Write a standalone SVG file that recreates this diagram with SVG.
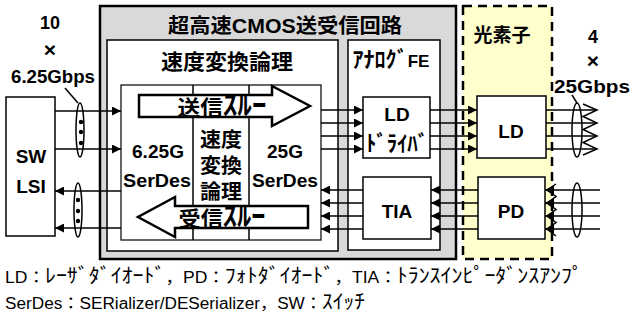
<svg xmlns="http://www.w3.org/2000/svg" width="630" height="322" viewBox="0 0 630 322">
<style>
.box{fill:#fff;stroke:#000;stroke-width:1.5}
.ln{stroke:#000;stroke-width:1.5;fill:none}
.t{font-family:"Liberation Sans","Noto Sans CJK JP",sans-serif;font-weight:bold;text-anchor:middle;fill:#000}
.n{font-family:"Liberation Sans","Noto Sans CJK JP",sans-serif;font-size:16px;fill:#000}
.k{font-family:"Noto Sans CJK JP",sans-serif;font-size:20px}
</style>
<defs>
<marker id="ah" viewBox="0 0 10 10" refX="10" refY="5" markerWidth="9" markerHeight="9" markerUnits="userSpaceOnUse" orient="auto"><path d="M0,0 L10,5 L0,10 z" fill="#000"/></marker>
</defs>

<g id="cmos">
<rect x="100" y="6" width="356" height="253" fill="#d9d9d9" stroke="#000" stroke-width="2.5"/>
<text class="t" x="285" y="33" font-size="20" textLength="234" lengthAdjust="spacingAndGlyphs">超高速CMOS送受信回路</text>
</g>

<g id="optical">
<rect x="463" y="6" width="89" height="253" fill="#ffffcc" stroke="#000" stroke-width="2.5" stroke-dasharray="9,6"/>
<text class="t" x="502" y="42" font-size="19">光素子</text>
</g>

<g id="speedlogic">
<rect class="box" x="107" y="40" width="231" height="211"/>
<text class="t" x="227" y="69" font-size="21" textLength="132" lengthAdjust="spacingAndGlyphs">速度変換論理</text>
</g>

<g id="analogfe">
<rect class="box" x="348" y="40" width="92" height="210"/>
<text class="t" x="391" y="67" font-size="17" textLength="77" lengthAdjust="spacingAndGlyphs"><tspan font-size="22">ｱﾅﾛｸﾞ</tspan>FE</text>
</g>

<g id="serdes">
<rect x="121" y="85" width="200" height="155" fill="#fff" stroke="#000" stroke-width="1.2"/>
<line class="ln" x1="193" y1="85" x2="193" y2="240" stroke-width="1.2"/>
<line class="ln" x1="249" y1="85" x2="249" y2="240" stroke-width="1.2"/>
<text class="t" x="158" y="158" font-size="19" textLength="52" lengthAdjust="spacingAndGlyphs">6.25G</text>
<text class="t" x="157" y="187" font-size="19" textLength="68" lengthAdjust="spacingAndGlyphs">SerDes</text>
<text class="t" x="285" y="158" font-size="19" textLength="36" lengthAdjust="spacingAndGlyphs">25G</text>
<text class="t" x="285" y="187" font-size="19" textLength="66" lengthAdjust="spacingAndGlyphs">SerDes</text>
<text class="t" x="221" y="147" font-size="20" textLength="42" lengthAdjust="spacingAndGlyphs">速度</text>
<text class="t" x="221" y="173" font-size="20" textLength="42" lengthAdjust="spacingAndGlyphs">変換</text>
<text class="t" x="221" y="199" font-size="20" textLength="42" lengthAdjust="spacingAndGlyphs">論理</text>
</g>

<g id="send-through">
<path d="M139,95 L272,95 L272,86 L310,106 L272,126 L272,117 L139,117 Z" fill="#fff" stroke="#000" stroke-width="2.5" stroke-linejoin="miter"/>
<text class="t" x="222" y="115" font-size="21" textLength="89" lengthAdjust="spacingAndGlyphs">送信<tspan font-size="27">ｽﾙｰ</tspan></text>
</g>

<g id="recv-through">
<path d="M308,206 L175,206 L175,197 L138,217 L175,237 L175,228 L308,228 Z" fill="#fff" stroke="#000" stroke-width="2.5" stroke-linejoin="miter"/>
<text class="t" x="222" y="226" font-size="21" textLength="87" lengthAdjust="spacingAndGlyphs">受信<tspan font-size="27">ｽﾙｰ</tspan></text>
</g>

<g id="swlsi">
<rect class="box" x="6" y="97" width="49" height="139"/>
<text class="t" x="31" y="163" font-size="19">SW</text>
<text class="t" x="31" y="193" font-size="19">LSI</text>
</g>

<g id="lddriver">
<rect class="box" x="363" y="97" width="67" height="61"/>
<text class="t" x="397" y="121" font-size="19">LD</text>
<text class="t" x="397" y="151" font-size="22" textLength="62" lengthAdjust="spacingAndGlyphs">ﾄﾞﾗｲﾊﾞ</text>
</g>

<g id="tia">
<rect class="box" x="363" y="177" width="68" height="62"/>
<text class="t" x="397" y="218" font-size="19">TIA</text>
</g>

<g id="ld">
<rect class="box" x="477" y="96" width="69" height="62"/>
<text class="t" x="511" y="138" font-size="19">LD</text>
</g>

<g id="pd">
<rect class="box" x="478" y="177" width="67" height="62"/>
<text class="t" x="511" y="218" font-size="19">PD</text>
</g>

<g id="labels">
<text class="t" x="50" y="29" font-size="18">10</text>
<text class="t" x="50" y="57" font-size="21">×</text>
<text class="t" x="53" y="83" font-size="18" textLength="84" lengthAdjust="spacingAndGlyphs">6.25Gbps</text>
<text class="t" x="593" y="43" font-size="18">4</text>
<text class="t" x="593" y="68" font-size="21">×</text>
<text class="t" x="592" y="93" font-size="18" textLength="76" lengthAdjust="spacingAndGlyphs">25Gbps</text>
<text class="n" x="5" y="283" textLength="578" lengthAdjust="spacingAndGlyphs">LD：<tspan class="k">ﾚｰｻﾞﾀﾞｲｵｰﾄﾞ</tspan>，PD：<tspan class="k">ﾌｫﾄﾀﾞｲｵｰﾄﾞ</tspan>，TIA：<tspan class="k">ﾄﾗﾝｽｲﾝﾋﾟｰﾀﾞﾝｽｱﾝﾌﾟ</tspan></text>
<text class="n" x="5" y="309" textLength="360" lengthAdjust="spacingAndGlyphs">SerDes：SERializer/DESerializer，SW：<tspan class="k">ｽｲｯﾁ</tspan></text>
</g>

<g id="connectors">
<line class="ln" x1="55" y1="111" x2="121" y2="111" marker-end="url(#ah)"/>
<line class="ln" x1="55" y1="149" x2="121" y2="149" marker-end="url(#ah)"/>
<line class="ln" x1="121" y1="191" x2="55" y2="191" marker-end="url(#ah)"/>
<line class="ln" x1="121" y1="228" x2="55" y2="228" marker-end="url(#ah)"/>
<ellipse class="ln" cx="80" cy="130" rx="4" ry="27" stroke-width="1.2"/>
<ellipse class="ln" cx="78" cy="210" rx="4" ry="27" stroke-width="1.2"/>
<circle cx="81" cy="122" r="2.2"/><circle cx="81" cy="132" r="2.2"/><circle cx="81" cy="143" r="2.2"/>
<circle cx="78" cy="200" r="2.2"/><circle cx="78" cy="211" r="2.2"/><circle cx="78" cy="221" r="2.2"/>
<line class="ln" x1="65" y1="88" x2="78" y2="103" stroke-width="1"/>
<line class="ln" x1="321" y1="110" x2="363" y2="110" marker-end="url(#ah)"/>
<line class="ln" x1="321" y1="123" x2="363" y2="123" marker-end="url(#ah)"/>
<line class="ln" x1="321" y1="136" x2="363" y2="136" marker-end="url(#ah)"/>
<line class="ln" x1="321" y1="149" x2="363" y2="149" marker-end="url(#ah)"/>
<line class="ln" x1="363" y1="190" x2="321" y2="190" marker-end="url(#ah)"/>
<line class="ln" x1="363" y1="203" x2="321" y2="203" marker-end="url(#ah)"/>
<line class="ln" x1="363" y1="216" x2="321" y2="216" marker-end="url(#ah)"/>
<line class="ln" x1="363" y1="229" x2="321" y2="229" marker-end="url(#ah)"/>
<line class="ln" x1="430" y1="110" x2="477" y2="110" marker-end="url(#ah)"/>
<line class="ln" x1="430" y1="123" x2="477" y2="123" marker-end="url(#ah)"/>
<line class="ln" x1="430" y1="136" x2="477" y2="136" marker-end="url(#ah)"/>
<line class="ln" x1="430" y1="149" x2="477" y2="149" marker-end="url(#ah)"/>
<line class="ln" x1="478" y1="190" x2="431" y2="190" marker-end="url(#ah)"/>
<line class="ln" x1="478" y1="203" x2="431" y2="203" marker-end="url(#ah)"/>
<line class="ln" x1="478" y1="216" x2="431" y2="216" marker-end="url(#ah)"/>
<line class="ln" x1="478" y1="229" x2="431" y2="229" marker-end="url(#ah)"/>
<line class="ln" x1="546" y1="110" x2="597" y2="110"/>
<line class="ln" x1="546" y1="123" x2="597" y2="123"/>
<line class="ln" x1="546" y1="136" x2="597" y2="136"/>
<line class="ln" x1="546" y1="149" x2="597" y2="149"/>
<polyline class="ln" points="583,104 597,110 583,116.5 597,123 583,129.5 597,136 583,142.5 597,149 583,155" stroke-width="1.2"/>
<ellipse class="ln" cx="577" cy="130" rx="5" ry="27" stroke-width="1.2"/>
<line class="ln" x1="572" y1="95" x2="577" y2="103" stroke-width="1"/>
<line class="ln" x1="600" y1="190" x2="545" y2="190" marker-end="url(#ah)"/>
<line class="ln" x1="600" y1="203" x2="545" y2="203" marker-end="url(#ah)"/>
<line class="ln" x1="600" y1="216" x2="545" y2="216" marker-end="url(#ah)"/>
<line class="ln" x1="600" y1="229" x2="545" y2="229" marker-end="url(#ah)"/>
<polyline class="ln" points="556,184 547,190 556,196.5 547,203 556,209.5 547,216 556,222.5 547,229 556,236" stroke-width="1.2"/>
<ellipse class="ln" cx="577" cy="210" rx="5" ry="27" stroke-width="1.2"/>
</g>
</svg>
